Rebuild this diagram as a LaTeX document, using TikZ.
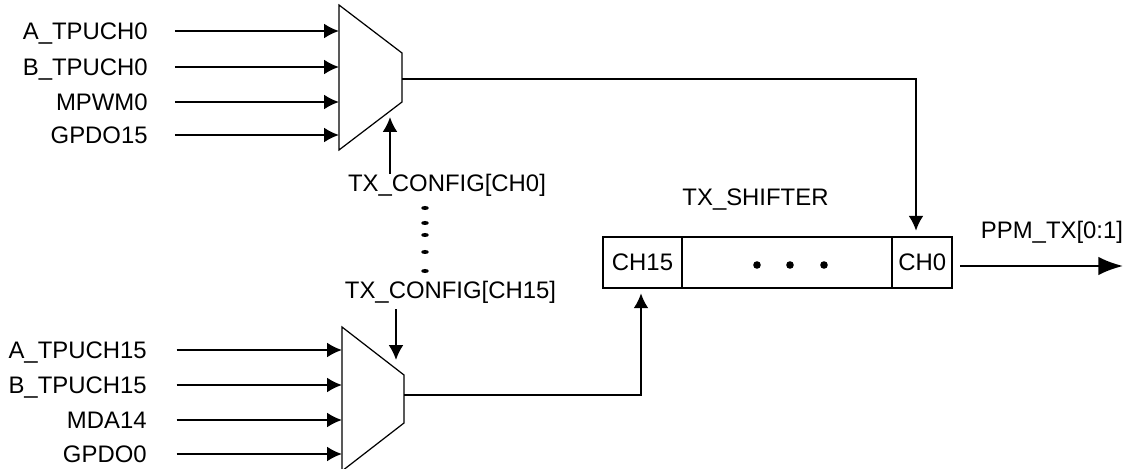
\documentclass[tikz,border=0pt]{standalone}
\usepackage{fontspec}
\setmainfont{Liberation Sans}
\usetikzlibrary{arrows.meta}
\tikzset{>={Latex[length=8.5pt,width=8.5pt]}}
\tikzstyle{sig}=[inner sep=0,font=\fontsize{13.6}{15}\selectfont,text height=9.7pt,text depth=0pt]
\tikzstyle{wire}=[line width=1.2pt]
\tikzstyle{muxbody}=[line width=0.7pt,line join=miter]
\tikzstyle{cell}=[draw,line width=1.2pt,inner sep=0,minimum height=51*0.567pt,font=\fontsize{13.6}{15}\selectfont]

\begin{document}
\begin{tikzpicture}[x=0.02cm,y=-0.02cm]
  \def\G{15.3pt}   % gap label to input wire
  \def\T{3pt}      % gap arrow tip to body
  \useasboundingbox (0,0) rectangle (1123,469);

  % MUX TOP + MUX BOTTOM
  \draw[muxbody]
    (339,5) coordinate (muxAl) -- (402,53) -- (402,102) coordinate (muxAb) -- (339,150) -- cycle;
  \draw[muxbody]
    (342,327) coordinate (muxBl) -- (404,375) -- (404,423) -- (342,471) -- cycle;
  \coordinate (muxAo) at (402,79);
  \coordinate (muxBo) at (404,395);
  \coordinate (muxAc) at (390,117);
  \coordinate (muxBc) at (396,360);

  % INPUTS
  \foreach \nm/\y/\txt in {ia/31/A\_TPUCH0,ib/67/B\_TPUCH0,ic/102/MPWM0,id/135/GPDO15}{
    \node[sig,anchor=east] (\nm) at (148,\y) {\txt};
    \draw[wire,->,shorten <=\G] (\nm.east) -- (\nm.east -| muxAl);
  }
  \foreach \nm/\y/\txt in {ja/350/A\_TPUCH15,jb/385/B\_TPUCH15,jc/420/MDA14,jd/454/GPDO0}{
    \node[sig,anchor=east] (\nm) at (147,\y) {\txt};
    \draw[wire,->,shorten <=\G+1.5pt] (\nm.east) -- (\nm.east -| muxBl);
  }

  % SHIFTER
  \node[cell,minimum width=79*0.567pt] (ch15) at (642.5,262.5) {CH15};
  \node[cell,minimum width=210*0.567pt] (mid) at (787,262.5) {};
  \node[cell,minimum width=60.5*0.567pt] (ch0) at (922.2,262.5) {CH0};
  \foreach \x in {757,790,824}{
    \fill (\x,265) circle[radius=3.8];
  }
  \node[sig] (shifter) at (755.5,197) {TX\_SHIFTER};
  \node[sig] (ppm) at (1052,230) {PPM\_TX[0:1]};

  % CONFIG
  \node[sig] (cfgA) at (447,183) {TX\_CONFIG[CH0]};
  \node[sig] (cfgB) at (450.5,290) {TX\_CONFIG[CH15]};
  \foreach \y in {208,223,235,252,271}{
    \fill (425,\y) ellipse(3.8 and 2);
  }
  \draw[wire,->] (muxAc |- cfgA.north) -- (muxAc);
  \draw[wire,->,shorten <=6pt] (muxBc |- cfgB.south) -- (muxBc);

  % OUTPUTS
  \draw[wire,->,shorten >=\T] (muxAo) -| (ch0.north -| 916,0);
  \draw[wire,->,shorten >=\T] (muxBo) -| (641,288);
  \coordinate (out) at (1123,266);
  \draw[wire,-{Latex[length=14pt,width=10.5pt]},shorten <=4pt] (ch0.east |- out) -- (out);
\end{tikzpicture}
\end{document}
